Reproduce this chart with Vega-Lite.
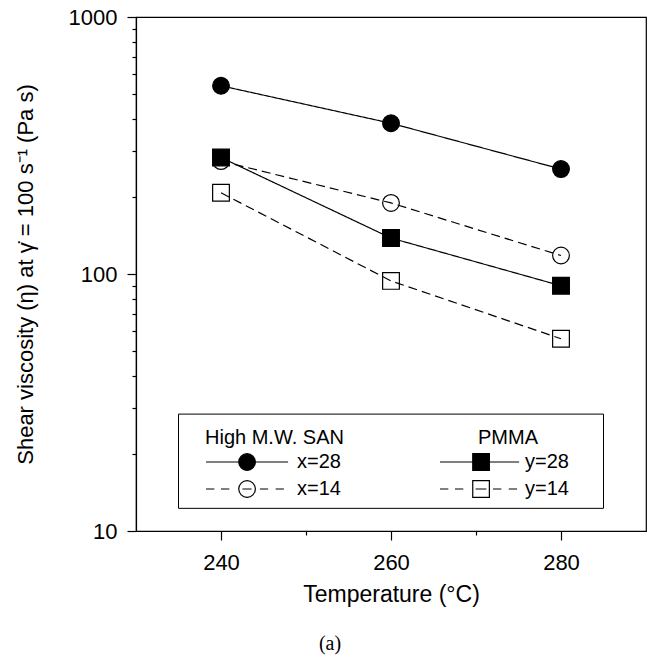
{
  "$schema": "https://vega.github.io/schema/vega-lite/v6.json",
  "width": 510,
  "height": 514,
  "autosize": {"type": "none"},
  "padding": {"left": 136, "top": 17, "right": 3, "bottom": 124},
  "background": "white",
  "title": {"text": "(a)", "orient": "bottom", "anchor": "middle", "frame": "bounds", "font": "Liberation Serif", "fontSize": 20, "fontWeight": "normal", "color": "black", "offset": 28},
  "datasets": {
    "viscosity": [
      {"polymer": "SAN", "series": "x=28", "temperature": 240, "viscosity": 540},
      {"polymer": "SAN", "series": "x=28", "temperature": 260, "viscosity": 386},
      {"polymer": "SAN", "series": "x=28", "temperature": 280, "viscosity": 256},
      {"polymer": "SAN", "series": "x=14", "temperature": 240, "viscosity": 275},
      {"polymer": "SAN", "series": "x=14", "temperature": 260, "viscosity": 189},
      {"polymer": "SAN", "series": "x=14", "temperature": 280, "viscosity": 118},
      {"polymer": "PMMA", "series": "y=28", "temperature": 240, "viscosity": 284},
      {"polymer": "PMMA", "series": "y=28", "temperature": 260, "viscosity": 138},
      {"polymer": "PMMA", "series": "y=28", "temperature": 280, "viscosity": 90},
      {"polymer": "PMMA", "series": "y=14", "temperature": 240, "viscosity": 207},
      {"polymer": "PMMA", "series": "y=14", "temperature": 260, "viscosity": 94},
      {"polymer": "PMMA", "series": "y=14", "temperature": 280, "viscosity": 56}
    ]
  },
  "data": {"name": "viscosity"},
  "encoding": {
    "x": {
      "field": "temperature", "type": "quantitative",
      "scale": {"domain": [230, 290], "nice": false, "zero": false},
      "axis": {
        "title": "Temperature (°C)",
        "values": [240, 250, 260, 270, 280],
        "labelExpr": "datum.value % 20 === 0 ? datum.label : ''",
        "tickSize": {"condition": {"test": "datum.value % 20 === 0", "value": 9}, "value": 4},
        "labelPadding": 12, "titlePadding": 10,
        "labelFontSize": 22, "titleFontSize": 23
      }
    },
    "y": {
      "field": "viscosity", "type": "quantitative",
      "scale": {"type": "log", "domain": [10, 1000], "nice": false},
      "axis": {
        "title": "Shear viscosity (η) at γ̇ = 100 s⁻¹ (Pa s)",
        "values": [10, 20, 30, 40, 50, 60, 70, 80, 90, 100, 200, 300, 400, 500, 600, 700, 800, 900, 1000],
        "format": "d",
        "labelExpr": "datum.value === 10 || datum.value === 100 || datum.value === 1000 ? datum.label : ''",
        "tickSize": {"condition": {"test": "datum.value === 10 || datum.value === 100 || datum.value === 1000", "value": 9}, "value": 4},
        "labelPadding": 10, "titlePadding": 31,
        "labelFontSize": 22, "titleFontSize": 22
      }
    }
  },
  "layer": [
    {
      "data": {"values": [{"item": "legend frame", "t0": 235, "t1": 285, "v0": 28.5, "v1": 12.25}]},
      "mark": {"type": "rect", "fill": "transparent", "stroke": "black", "strokeWidth": 1},
      "encoding": {
        "x": {"field": "t0", "type": "quantitative"},
        "x2": {"field": "t1"},
        "y": {"field": "v0", "type": "quantitative"},
        "y2": {"field": "v1"}
      }
    },
    {
      "transform": [{"filter": "datum.polymer === 'SAN'"}],
      "layer": [
        {
          "mark": {"type": "line", "color": "black", "strokeWidth": 1.2},
          "encoding": {
            "strokeDash": {
              "field": "series", "type": "nominal",
              "scale": {"domain": ["x=14", "x=28"], "range": [[9, 5], [1, 0]]},
              "legend": null
            }
          }
        },
        {
          "mark": {"type": "point", "shape": "circle", "size": 280, "filled": true, "stroke": "black", "strokeWidth": 1.2, "opacity": 1},
          "encoding": {
            "fill": {
              "field": "series", "type": "nominal",
              "scale": {"domain": ["x=28", "x=14"], "range": ["black", "transparent"]},
              "legend": {"title": "High M.W. SAN", "orient": "none", "legendX": 69, "legendY": 411, "titleAnchor": "start",
                "symbolType": "M-1.08,0H8.8M4.86,0A1,1,0,1,1,2.86,0A1,1,0,1,1,4.86,0Z",
                "symbolSize": 276, "symbolStrokeWidth": 1.2, "symbolStrokeColor": "black", "symbolOpacity": 1,
                "labelOffset": 72, "rowPadding": 5, "titlePadding": 4, "padding": 0,
                "encode": {
                  "symbols": {
                    "update": {
                      "shape": [
                        {"test": "datum.value === 'x=14'", "value": "M-1.08,0H-0.08M0.72,0H1.72M3.3,0H4.4M5.4,0H6.4M7.3,0H8.3M4.86,0A1,1,0,1,1,2.86,0A1,1,0,1,1,4.86,0Z"},
                        {"value": "M-1.08,0H8.8M4.86,0A1,1,0,1,1,2.86,0A1,1,0,1,1,4.86,0Z"}
                      ]
                    }
                  }
                }
              }
            }
          }
        }
      ]
    },
    {
      "transform": [{"filter": "datum.polymer === 'PMMA'"}],
      "layer": [
        {
          "mark": {"type": "line", "color": "black", "strokeWidth": 1.2},
          "encoding": {
            "strokeDash": {
              "field": "series", "type": "nominal",
              "scale": {"domain": ["y=14", "y=28"], "range": [[9, 5], [1, 0]]},
              "legend": null
            }
          }
        },
        {
          "mark": {"type": "point", "shape": "square", "size": 280, "filled": true, "stroke": "black", "strokeWidth": 1.2, "opacity": 1},
          "encoding": {
            "fill": {
              "field": "series", "type": "nominal",
              "scale": {"domain": ["y=28", "y=14"], "range": ["black", "transparent"]},
              "legend": {"title": "PMMA", "orient": "none", "legendX": 303, "legendY": 411, "titleAnchor": "middle",
                "symbolType": "M-1.08,0H8.44M2.86,-1H4.86V1H2.86Z",
                "symbolSize": 276, "symbolStrokeWidth": 1.2, "symbolStrokeColor": "black", "symbolOpacity": 1,
                "labelOffset": 66, "rowPadding": 5, "titlePadding": 4, "padding": 0,
                "encode": {
                  "title": {"update": {"dx": {"value": 4}}},
                  "symbols": {
                    "update": {
                      "shape": [
                        {"test": "datum.value === 'y=14'", "value": "M-1.08,0H-0.08M0.72,0H1.72M3.2,0H4.5M5.3,0H6.3M7.2,0H8.2M2.86,-1H4.86V1H2.86Z"},
                        {"value": "M-1.08,0H8.44M2.86,-1H4.86V1H2.86Z"}
                      ]
                    }
                  }
                }
              }
            }
          }
        }
      ]
    }
  ],
  "resolve": {
    "scale": {"strokeDash": "independent", "fill": "independent"},
    "legend": {"strokeDash": "independent", "fill": "independent"}
  },
  "config": {
    "font": "Liberation Sans",
    "view": {"stroke": "black", "strokeWidth": 1.2},
    "axis": {
      "grid": false, "domainColor": "black", "tickColor": "black", "labelColor": "black", "titleColor": "black",
      "titleFontWeight": "normal", "domainWidth": 1.2, "tickWidth": 1.2, "labelFlush": false, "labelOverlap": false,
      "labelFont": "Liberation Sans", "titleFont": "Liberation Sans"
    },
    "legend": {
      "labelFont": "Liberation Sans", "titleFont": "Liberation Sans", "labelFontSize": 20, "titleFontSize": 20,
      "titleFontWeight": "normal", "labelColor": "black", "titleColor": "black", "labelLimit": 300
    }
  }
}
